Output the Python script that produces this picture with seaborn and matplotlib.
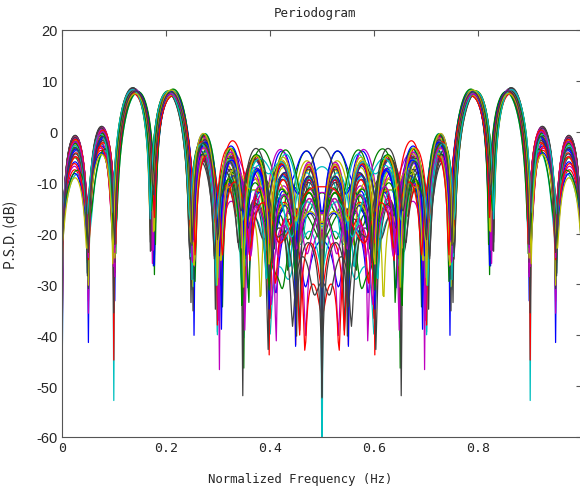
import numpy as np
import pandas as pd
import matplotlib
matplotlib.use("Agg")
import matplotlib.pyplot as plt
import seaborn as sns

# -----------------------------------
# DATA
# -----------------------------------

# two main tones of the record (normalized frequency, amplitude)
n_samples = 20
tone_freqs = [0.15, 0.20]
tone_amps = [1.01, 1.01]
tone_phase_step = 0.05 * np.pi

# one record per curve: small detuning of the tones, their common phase
# and a weak extra tone
detune_1 = [0.002, -0.003, 0.004, -0.001, 0.003, -0.004, 0.001, -0.002,
            0.005, -0.003, 0.000, 0.002, -0.005, 0.003, -0.002, 0.004,
            -0.001, 0.001, -0.004, 0.002, -0.003, 0.005, -0.002, 0.000,
            0.003, -0.004, 0.001, -0.001, 0.004, -0.005, 0.002, -0.002,
            0.003, -0.003, 0.001, -0.002, 0.003, -0.004, 0.001, 0.000,
            0.004, -0.003, 0.002, -0.001, 0.005, -0.005, 0.002, -0.002,
            0.001]
detune_2 = [0.003, -0.003, 0.003, 0.000, 0.003, -0.005, 0.001, -0.001,
            0.004, -0.002, -0.001, 0.002, -0.004, 0.002, -0.002, 0.005,
            0.000, 0.001, -0.003, 0.003, -0.003, 0.004, -0.001, -0.001,
            0.003, -0.003, 0.000, -0.001, 0.005, -0.004, 0.001, -0.002,
            0.004, -0.003, 0.002, -0.002, 0.004, -0.004, 0.000, 0.001,
            0.003, -0.003, 0.003, -0.002, 0.004, -0.004, 0.001, -0.001,
            0.001]
curve_phase = [2.0, 1.3, 2.6, 5.2, 4.5, 1.8, 5.7, 2.9, 4.8, 1.1, 2.3, 5.0,
               6.0, 1.6, 4.3, 2.1, 5.4, 2.7, 1.4, 5.9, 2.4, 4.6, 1.9, 5.3,
               3.0, 1.2, 4.9, 2.2, 5.6, 1.7, 4.2, 2.5, 5.1, 1.5, 2.8, 1.0,
               2.9, 4.4, 5.8, 2.2, 1.6, 5.5, 2.6, 4.7, 1.9, 6.1, 2.4, 4.1,
               1.3]
extra_freq = [0.31, 0.44, 0.37, 0.48, 0.34, 0.41, 0.29, 0.46, 0.39, 0.33,
              0.43, 0.36, 0.47, 0.30, 0.42, 0.38, 0.45, 0.32, 0.40, 0.35,
              0.49, 0.28, 0.43, 0.37, 0.46, 0.33, 0.41, 0.30, 0.44, 0.39,
              0.35, 0.47, 0.32, 0.42, 0.38, 0.36, 0.45, 0.29, 0.41, 0.48,
              0.34, 0.38, 0.43, 0.31, 0.47, 0.40, 0.33, 0.44, 0.37]
extra_amp = [0.08, 0.18, 0.06, 0.13, 0.14, 0.05, 0.10, 0.20, 0.07, 0.12,
             0.06, 0.17, 0.10, 0.07, 0.14, 0.19, 0.05, 0.11, 0.17, 0.08,
             0.15, 0.08, 0.06, 0.18, 0.13, 0.07, 0.16, 0.10, 0.06, 0.14,
             0.16, 0.09, 0.11, 0.07, 0.17, 0.10, 0.15, 0.06, 0.19, 0.08,
             0.12, 0.17, 0.05, 0.11, 0.09, 0.16, 0.10, 0.07, 0.14]
extra_phase = [0.4, 2.1, 4.8, 1.3, 3.6, 5.5, 0.9, 2.8, 4.2, 1.7, 3.1, 5.9,
               0.2, 2.5, 4.5, 1.0, 3.9, 5.2, 0.7, 2.3, 4.0, 1.5, 3.3, 5.7,
               0.5, 2.7, 4.6, 1.9, 3.5, 6.0, 1.1, 2.9, 4.3, 0.3, 5.0, 3.0,
               0.6, 5.3, 2.0, 4.4, 1.2, 3.8, 5.6, 0.1, 2.6, 4.9, 1.6, 3.4,
               5.8]

x_ticks = [0, 0.2, 0.4, 0.6, 0.8, 1]
x_tick_labels = ["0", "0.2", "0.4", "0.6", "0.8", "1"]
y_ticks = [-60, -50, -40, -30, -20, -10, 0, 10, 20]

# MATLAB style line colours
line_colors = ["#0000ff", "#008000", "#ff0000", "#00bfbf",
               "#bf00bf", "#bfbf00", "#404040"]


def periodogram_db(signal, freqs):
    n = np.arange(len(signal))
    spec = np.exp(-2j * np.pi * np.outer(freqs, n)) @ signal
    return 10 * np.log10(np.abs(spec) ** 2 / len(signal) + 1e-12)


def main():
    freqs = np.linspace(0, 1, 513)
    n = np.arange(n_samples)

    frames = []
    for k in range(len(curve_phase)):
        detune = [detune_1[k], detune_2[k]]
        sig = np.zeros(n_samples)
        for j, (f, a) in enumerate(zip(tone_freqs, tone_amps)):
            sig += a * np.cos(2 * np.pi * (f + detune[j]) * n
                              + curve_phase[k] + j * tone_phase_step)
        sig += extra_amp[k] * np.cos(2 * np.pi * extra_freq[k] * n + extra_phase[k])
        frames.append(pd.DataFrame({
            "freq": freqs,
            "psd": periodogram_db(sig, freqs),
            "curve": k
        }))
    df = pd.concat(frames, ignore_index=True)

    sns.set_style("white")

    fig = plt.figure(figsize=(5.8, 4.89), dpi=100)
    ax = fig.add_axes([62 / 580, 51 / 489, 520 / 580, 407 / 489])

    palette = [line_colors[k % len(line_colors)] for k in range(len(curve_phase))]
    sns.lineplot(
        data=df, x="freq", y="psd", hue="curve",
        palette=palette, legend=False, linewidth=0.9,
        estimator=None, errorbar=None, ax=ax
    )

    ax.set_xlim(0, 1)
    ax.set_ylim(-60, 20)
    ax.set_xticks(x_ticks)
    ax.set_xticklabels(x_tick_labels, family="DejaVu Sans Mono", fontsize=9.5)
    ax.set_yticks(y_ticks)
    ax.set_yticklabels([str(v) for v in y_ticks], family="Liberation Sans", fontsize=10.5)
    ax.tick_params(direction="in", top=True, right=True, length=4,
                   color="#555555", pad=3)
    for side in ax.spines.values():
        side.set_color("#555555")
        side.set_linewidth(0.8)

    ax.set_title("Periodogram", family="DejaVu Sans Mono", fontsize=9,
                 x=0.487, pad=10)
    ax.set_xlabel("Normalized Frequency (Hz)", family="DejaVu Sans Mono",
                  fontsize=8.8)
    ax.xaxis.set_label_coords(0.458, -0.085)
    ax.set_ylabel("P.S.D. (dB)", family="Noto Sans CJK JP", fontsize=10)
    ax.yaxis.set_label_coords(-0.085, 0.5)

    fig.savefig("out.png", dpi=100)


if __name__ == "__main__":
    main()
